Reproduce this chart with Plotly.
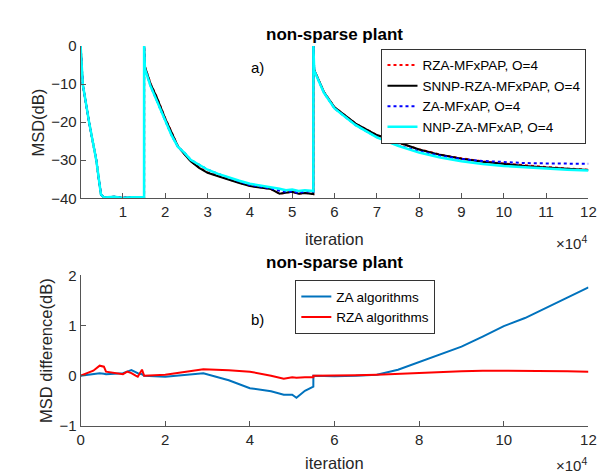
import plotly.graph_objects as go

# ---------------- data (x in units of 10^4 iterations) ----------------
X_TOP = [0, 0.05, 0.2, 0.37, 0.48, 0.55, 0.8, 1.0, 1.2, 1.4, 1.499, 1.5, 1.52, 1.65, 1.8, 2.0,
         2.15, 2.3, 2.45, 2.6, 2.8, 3.0, 3.25, 3.5, 3.75, 4.0, 4.25, 4.5, 4.7, 4.85, 5.0, 5.15,
         5.3, 5.499, 5.5, 5.52, 5.75, 6.0, 6.5, 7.0, 7.5, 8.0, 8.5, 9.0, 9.5, 10.0, 10.5, 11.0,
         11.5, 12.0]

RZA_MFXPAP = [0, -10, -20, -30, -39, -39.8, -39.6, -39.9, -39.7, -39.8, -39.7, 0, -5.4, -9.8, -13.4, -19.0,
              -22.8, -26.3, -28.3, -30.2, -31.9, -33.2, -34.1, -35.1, -35.9, -36.7, -37.2, -37.6, -38.8, -38.5, -38.3, -38.8,
              -38.6, -38.9, 0, -6.3, -12.1, -16.1, -20.4, -23.4, -25.4, -27.15, -28.55, -29.5, -30.3, -30.9, -31.4, -31.8,
              -32.2, -32.5]
SNNP_RZA_MFXPAP = [0, -10, -20, -30, -39, -39.8, -39.6, -39.9, -39.7, -39.8, -39.7, 0, -5.5, -9.9, -13.5, -19.1,
                   -22.9, -26.4, -28.4, -30.3, -32.0, -33.3, -34.2, -35.2, -36.0, -36.8, -37.2, -37.6, -38.8, -38.5, -38.3, -38.8,
                   -38.6, -38.9, 0, -6.3, -12.1, -16.1, -20.4, -23.4, -25.4, -27.2, -28.6, -29.6, -30.4, -31.0, -31.5, -31.9,
                   -32.3, -32.6]
ZA_MFXAP = [0, -10, -20, -30, -39, -39.8, -39.6, -39.9, -39.7, -39.8, -39.7, 0, -6.0, -10.5, -14.5, -19.8,
            -23.5, -26.5, -28.0, -29.9, -31.3, -32.5, -33.6, -34.7, -35.6, -36.5, -36.9, -37.4, -38.0, -38.3, -38.2, -38.6,
            -38.2, -38.3, 0, -6.5, -12.3, -16.4, -20.8, -23.95, -26.1, -27.7, -28.85, -29.7, -30.2, -30.5, -30.75, -30.85,
            -30.9, -30.95]
NNP_ZA_MFXAP = [0, -10, -20, -30, -39, -39.8, -39.6, -39.9, -39.7, -39.8, -39.7, 0, -6.0, -10.5, -14.5, -19.8,
                -23.5, -26.5, -28.0, -29.9, -31.3, -32.5, -33.6, -34.6, -35.4, -36.2, -36.6, -37.0, -37.5, -37.9, -37.7, -38.1,
                -37.9, -38.1, 0, -6.5, -12.3, -16.4, -20.8, -24.0, -26.2, -28.0, -29.3, -30.3, -31.0, -31.5, -31.9, -32.2,
                -32.5, -32.7]

X_BOT = [0, 0.3, 0.45, 0.55, 0.6, 0.8, 1.0, 1.1, 1.2, 1.3, 1.35, 1.45, 1.5, 2.0, 2.5, 2.9, 3.5, 4.0,
         4.5, 4.7, 4.8, 5.0, 5.1, 5.3, 5.45, 5.499, 5.5, 6.0, 6.5, 7.0, 7.5, 8.0, 8.5, 9.0, 9.5, 10.0,
         10.5, 11.0, 11.5, 12.0]
ZA_DIFF = [0, 0.03, 0.05, 0.04, 0.03, 0.04, 0.05, 0.08, 0.11, 0.07, 0.05, 0.03, 0.0, -0.02, 0.02, 0.05, -0.09, -0.25,
           -0.31, -0.35, -0.38, -0.38, -0.44, -0.3, -0.25, -0.22, 0.0, -0.01, 0.0, 0.02, 0.12, 0.27, 0.43, 0.58, 0.78, 0.99,
           1.15, 1.35, 1.55, 1.76]
RZA_DIFF = [0, 0.1, 0.2, 0.18, 0.08, 0.05, 0.03, 0.08, 0.05, 0.0, -0.02, 0.12, 0.0, 0.02, 0.08, 0.13, 0.11, 0.08,
            0.0, -0.05, -0.06, -0.03, -0.04, -0.03, -0.04, -0.03, 0.0, 0.0, 0.01, 0.02, 0.04, 0.06, 0.08, 0.09, 0.1, 0.1,
            0.1, 0.09, 0.09, 0.08]

TOP_TICKS = [1, 2, 3, 4, 5, 6, 7, 8, 9, 10, 11, 12]
BOT_TICKS = [0, 2, 4, 6, 8, 10, 12]
SCALE = 10000

xt = [v * SCALE for v in X_TOP]
xb = [v * SCALE for v in X_BOT]

FONT = "Liberation Sans, Arial, sans-serif"
AX = "#555555"
TXT = "#262626"

fig = go.Figure()
fig.add_trace(go.Scatter(x=xt, y=RZA_MFXPAP, mode="lines", name="RZA-MFxPAP, O=4",
                         line=dict(color="#ff0000", width=2, dash="dot"), xaxis="x", yaxis="y", legend="legend"))
fig.add_trace(go.Scatter(x=xt, y=SNNP_RZA_MFXPAP, mode="lines", name="SNNP-RZA-MFxPAP, O=4",
                         line=dict(color="#000000", width=2), xaxis="x", yaxis="y", legend="legend"))
fig.add_trace(go.Scatter(x=xt, y=ZA_MFXAP, mode="lines", name="ZA-MFxAP, O=4",
                         line=dict(color="#0000ff", width=2, dash="dot"), xaxis="x", yaxis="y", legend="legend"))
fig.add_trace(go.Scatter(x=xt, y=NNP_ZA_MFXAP, mode="lines", name="NNP-ZA-MFxAP, O=4",
                         line=dict(color="#00ffff", width=2.5), xaxis="x", yaxis="y", legend="legend"))

fig.add_trace(go.Scatter(x=xb, y=ZA_DIFF, mode="lines", name="ZA algorithms",
                         line=dict(color="#0072bd", width=2), xaxis="x2", yaxis="y2", legend="legend2"))
fig.add_trace(go.Scatter(x=xb, y=RZA_DIFF, mode="lines", name="RZA algorithms",
                         line=dict(color="#ff0000", width=2), xaxis="x2", yaxis="y2", legend="legend2"))

W, H = 611, 475
def px(x):
    return x / W
def py(y):
    return 1 - y / H

axis_common = dict(showline=True, linecolor=AX, linewidth=1, ticks="inside", ticklen=5,
                   tickcolor=AX, showgrid=False, zeroline=False,
                   tickfont=dict(family=FONT, size=15, color=TXT), mirror=False)

fig.update_layout(
    width=W, height=H, margin=dict(l=0, r=0, t=0, b=0),
    paper_bgcolor="white", plot_bgcolor="white",
    font=dict(family=FONT, color=TXT),
    xaxis=dict(domain=[px(70), px(588)], range=[0, 12 * SCALE], anchor="y",
               tickvals=[t * SCALE for t in TOP_TICKS], ticktext=[str(t) for t in TOP_TICKS], **axis_common),
    yaxis=dict(domain=[py(188), py(30)], range=[-40, 0], anchor="x",
               tickvals=[-40, -30, -20, -10, 0], **axis_common),
    xaxis2=dict(domain=[px(70), px(588)], range=[0, 12 * SCALE], anchor="y2",
                tickvals=[t * SCALE for t in BOT_TICKS], ticktext=[str(t) for t in BOT_TICKS], **axis_common),
    yaxis2=dict(domain=[py(424), py(268)], range=[-1, 2], anchor="x2",
                tickvals=[-1, 0, 1, 2], **axis_common),
    legend=dict(x=px(586), y=py(33), xanchor="right", yanchor="top", bgcolor="white",
                bordercolor="#333333", borderwidth=1, tracegroupgap=0,
                font=dict(family=FONT, size=13.5, color="#000000")),
    legend2=dict(x=px(289), y=py(273), xanchor="left", yanchor="top", bgcolor="white",
                 bordercolor="#333333", borderwidth=1, tracegroupgap=0,
                 font=dict(family=FONT, size=13.5, color="#000000")),
    showlegend=True,
)

def note(text, x, y, size, color=TXT, angle=0, xanchor="center", bold=False):
    return dict(text=("<b>%s</b>" % text) if bold else text, x=px(x), y=py(y), xref="paper", yref="paper",
                xanchor=xanchor, yanchor="middle", textangle=angle, showarrow=False,
                font=dict(family=FONT, size=size, color=color))

ann = [
    note("non-sparse plant", 329, 18, 17, "#000000", bold=True),
    note("non-sparse plant", 329, 255, 17, "#000000", bold=True),
    note("iteration", 329, 230, 16.5),
    note("iteration", 329, 463, 16.5),
    note("×10<sup>4</sup>", 589, 234, 15, xanchor="right"),
    note("×10<sup>4</sup>", 589, 464, 15, xanchor="right"),
    note("MSD(dB)", 27, 109, 16.5, angle=-90),
    note("MSD difference(dB)", 34, 346, 16.5, angle=-90),
]
ann.append(dict(text="a)", x=4.17 * SCALE, y=-5.7, xref="x", yref="y", xanchor="center", yanchor="middle",
                showarrow=False, font=dict(family=FONT, size=15, color="#000000")))
ann.append(dict(text="b)", x=4.17 * SCALE, y=1.12, xref="x2", yref="y2", xanchor="center", yanchor="middle",
                showarrow=False, font=dict(family=FONT, size=15, color="#000000")))
fig.update_layout(annotations=ann)

fig.write_html("out.html")
